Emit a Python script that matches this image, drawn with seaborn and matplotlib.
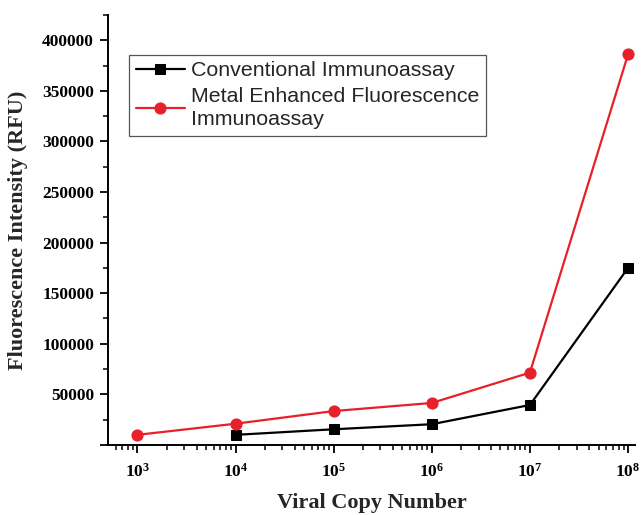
import numpy as np
import pandas as pd
import matplotlib
matplotlib.use("Agg")
import matplotlib.pyplot as plt
import matplotlib.ticker as mticker
import seaborn as sns

# Datos
copias_conv = [1e4, 1e5, 1e6, 1e7, 1e8]
rfu_conv = [10000, 15500, 20500, 39500, 175000]
copias_mef = [1e3, 1e4, 1e5, 1e6, 1e7, 1e8]
rfu_mef = [10000, 21000, 33500, 41500, 71500, 386000]

etiqueta_conv = "Conventional Immunoassay"
etiqueta_mef = "Metal Enhanced Fluorescence\nImmunoassay"

sns.set_style("ticks")
plt.rcParams['font.family'] = ['Liberation Serif', 'DejaVu Serif']
plt.rcParams['mathtext.fontset'] = 'custom'
plt.rcParams['mathtext.rm'] = 'Liberation Serif:bold'
plt.rcParams['mathtext.bf'] = 'Liberation Serif:bold'

fig = plt.figure(figsize=(6.41, 5.15), dpi=100)
ax = fig.add_axes([0.1685, 0.136, 0.822, 0.835])

df_conv = pd.DataFrame({'x': copias_conv, 'y': rfu_conv})
df_mef = pd.DataFrame({'x': copias_mef, 'y': rfu_mef})

sns.lineplot(data=df_conv, x='x', y='y', ax=ax, color='black', marker='s',
             markersize=7, markeredgecolor='black', linewidth=1.6,
             label=etiqueta_conv)
sns.lineplot(data=df_mef, x='x', y='y', ax=ax, color='#e8202a', marker='o',
             markersize=8, markeredgecolor='#e8202a', linewidth=1.6,
             label=etiqueta_mef)

ax.set_xscale('log')
ax.set_xlim(10**2.7, 10**8.07)
ax.set_ylim(0, 425000)

ax.yaxis.set_major_locator(mticker.MultipleLocator(50000))
ax.yaxis.set_minor_locator(mticker.MultipleLocator(25000))
ax.yaxis.set_major_formatter(mticker.FuncFormatter(lambda v, p: '' if v == 0 else f'{int(v)}'))
ax.xaxis.set_major_locator(mticker.LogLocator(base=10, numticks=12))
ax.xaxis.set_minor_locator(mticker.LogLocator(base=10, subs=np.arange(2, 10), numticks=12))
ax.xaxis.set_major_formatter(mticker.FuncFormatter(
    lambda v, p: r'$\mathbf{10^{%d}}$' % round(np.log10(v))))

ax.tick_params(axis='both', which='major', direction='out', length=6, width=1.3,
               labelsize=12.5, color='black', labelcolor='black', pad=4)
ax.tick_params(axis='x', which='major', pad=7)
ax.tick_params(axis='both', which='minor', direction='out', length=3.5, width=1.1,
               color='black')
for lab in ax.get_yticklabels():
    lab.set_fontweight('bold')

sns.despine(ax=ax)
for s in ['left', 'bottom']:
    ax.spines[s].set_linewidth(1.4)
    ax.spines[s].set_color('black')

ax.set_xlabel('Viral Copy Number', fontsize=16, fontweight='bold', labelpad=9)
ax.set_ylabel('Fluorescence Intensity (RFU)', fontsize=16, fontweight='bold', labelpad=10)

leg = ax.legend(loc='upper left', bbox_to_anchor=(0.04, 0.907), frameon=True,
                fancybox=False, edgecolor='#555555', framealpha=1,
                prop={'family': 'Liberation Sans', 'size': 15.4},
                handlelength=2.3, borderpad=0.3, labelspacing=0.3,
                handletextpad=0.3, borderaxespad=0)
leg.get_frame().set_linewidth(0.9)
for t in leg.get_texts():
    t.set_linespacing(1.3)

fig.savefig('out.png', dpi=100)
